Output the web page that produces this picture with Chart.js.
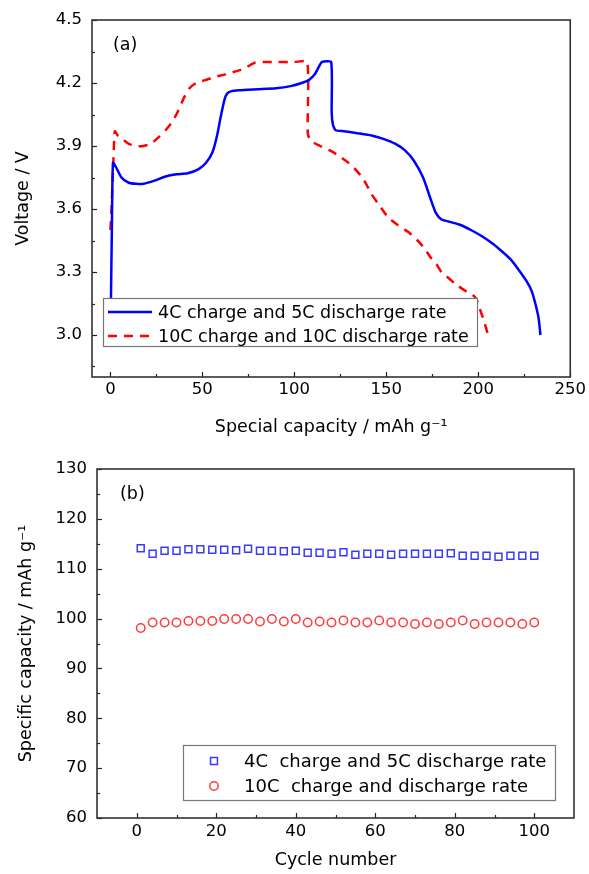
<!DOCTYPE html>
<html>
<head>
<meta charset="utf-8">
<title>Rate capability</title>
<script src="https://cdn.jsdelivr.net/npm/chart.js@4.4.1/dist/chart.umd.min.js"></script>
<style>
  html, body { margin: 0; padding: 0; background: #fff; }
  #wrap { position: relative; width: 589px; height: 874px; }
  .panel { position: absolute; left: 0; width: 589px; }
  #panelA { top: 0; height: 440px; }
  #panelB { top: 440px; height: 434px; }
</style>
</head>
<body>
<div id="wrap">
  <div class="panel" id="panelA"><canvas id="chartA" width="589" height="440"></canvas></div>
  <div class="panel" id="panelB"><canvas id="chartB" width="589" height="434"></canvas></div>
</div>
<script>
// (a) charge / discharge curves
const capBlue = [0.3, 0.8, 1.4, 3, 6, 10, 14, 18, 24, 30, 36, 42, 48, 52, 55.5, 58, 60, 62, 63.5, 65.5,
  70, 80, 90, 98, 104, 108, 111, 113.5, 115, 120, 120.3, 121, 122.5, 127, 135, 142, 148, 155, 160, 165,
  170, 174, 177, 180, 184, 190, 196, 202, 207, 212, 217.6, 222, 226, 229, 231, 232.8, 233.8];
const voltBlue = [3.17, 3.50, 3.82, 3.80, 3.75, 3.725, 3.72, 3.72, 3.735, 3.755, 3.765, 3.77, 3.79, 3.82, 3.87, 3.95, 4.04, 4.12, 4.15, 4.16,
  4.165, 4.17, 4.175, 4.185, 4.20, 4.215, 4.24, 4.28, 4.30, 4.30, 4.06, 4.00, 3.975, 3.97, 3.96, 3.95, 3.935, 3.91, 3.88, 3.83,
  3.75, 3.65, 3.58, 3.55, 3.54, 3.525, 3.50, 3.47, 3.44, 3.405, 3.36, 3.31, 3.26, 3.21, 3.15, 3.08, 3.00];
const capRed = [0, 0.6, 1.5, 2.4, 4, 7, 10, 14, 18, 22, 26, 30, 34, 37, 40, 43, 46.6, 52, 57, 62,
  66, 70, 74, 78, 81, 90, 100, 107, 107.3, 109, 114, 119, 124, 128, 132, 136, 139, 142, 146, 151,
  156, 162, 167, 171, 174, 177, 180, 184, 188, 193, 197, 199, 201, 203, 205];
const voltRed = [3.50, 3.60, 3.80, 3.97, 3.95, 3.93, 3.91, 3.90, 3.90, 3.91, 3.94, 3.975, 4.02, 4.07, 4.13, 4.175, 4.20, 4.215, 4.23, 4.24,
  4.25, 4.26, 4.275, 4.295, 4.30, 4.30, 4.30, 4.30, 3.96, 3.925, 3.90, 3.88, 3.855, 3.83, 3.80, 3.76, 3.72, 3.67, 3.62, 3.56,
  3.525, 3.49, 3.45, 3.41, 3.37, 3.34, 3.30, 3.27, 3.24, 3.21, 3.19, 3.17, 3.12, 3.07, 3.01];
const seriesA = ["4C charge and 5C discharge rate", "10C charge and 10C discharge rate"];
const xTicksA = [0, 50, 100, 150, 200, 250];
const yTicksA = [3.0, 3.3, 3.6, 3.9, 4.2, 4.5];

// (b) cycling at fixed rates
const cycles = [1, 4, 7, 10, 13, 16, 19, 22, 25, 28, 31, 34, 37, 40, 43, 46, 49, 52, 55, 58,
  61, 64, 67, 70, 73, 76, 79, 82, 85, 88, 91, 94, 97, 100];
const capCycleBlue = [114.1, 113.0, 113.6, 113.6, 113.9, 113.9, 113.8, 113.8, 113.7, 114.0, 113.6, 113.6, 113.5, 113.6, 113.2, 113.2, 113.0, 113.3, 112.8, 113.0,
  113.0, 112.8, 113.0, 113.0, 113.0, 113.0, 113.1, 112.6, 112.6, 112.6, 112.4, 112.6, 112.6, 112.6];
const capCycleRed = [98.1, 99.2, 99.2, 99.2, 99.5, 99.5, 99.5, 99.9, 99.9, 99.9, 99.4, 99.9, 99.4, 99.9, 99.2, 99.4, 99.2, 99.6, 99.2, 99.2,
  99.6, 99.2, 99.2, 98.9, 99.2, 98.9, 99.2, 99.6, 98.9, 99.2, 99.2, 99.2, 98.9, 99.2];
const seriesB = ["4C  charge and 5C discharge rate", "10C  charge and discharge rate"];
const xTicksB = [0, 20, 40, 60, 80, 100];
const yTicksB = [60, 70, 80, 90, 100, 110, 120, 130];

Chart.defaults.font.family = '"DejaVu Sans", "Liberation Sans", sans-serif';
Chart.defaults.color = '#000';

const ink = '#222';

function halfSteps(major, min, max) {
  const step = major[1] - major[0];
  const out = [];
  for (let v = major[0] - step / 2; v < max - 1e-9; v += step) {
    if (v > min + 1e-9) out.push(v);
  }
  return out;
}

function drawInwardTicks(ctx, scale, values, len) {
  const a = scale.chart.chartArea;
  values.forEach(v => {
    const p = Math.round(scale.getPixelForValue(v)) + 0.5;
    ctx.beginPath();
    if (scale.isHorizontal()) {
      ctx.moveTo(p, a.bottom);
      ctx.lineTo(p, a.bottom - len);
    } else {
      ctx.moveTo(a.left, p);
      ctx.lineTo(a.left + len, p);
    }
    ctx.stroke();
  });
}

function drawLegendBox(chart, o) {
  const { ctx, chartArea: a } = chart;
  const x = a.left + o.x;
  const y = a.bottom - o.bottom - o.h;
  ctx.fillStyle = '#fff';
  ctx.fillRect(x, y, o.w, o.h);
  ctx.strokeStyle = '#777';
  ctx.lineWidth = 1.2;
  ctx.strokeRect(x + 0.5, y + 0.5, o.w, o.h);
  ctx.font = o.size + 'px "DejaVu Sans", sans-serif';
  ctx.textBaseline = 'middle';
  ctx.textAlign = 'left';
  chart.data.datasets.forEach((ds, i) => {
    const cy = y + o.first + i * o.row;
    ctx.strokeStyle = ds.borderColor;
    if (o.kind === 'line') {
      ctx.lineWidth = ds.borderWidth;
      ctx.setLineDash(ds.borderDash || []);
      ctx.beginPath();
      ctx.moveTo(x + o.sx, cy);
      ctx.lineTo(x + o.sx + o.sw, cy);
      ctx.stroke();
      ctx.setLineDash([]);
    } else {
      ctx.lineWidth = ds.borderWidth;
      ctx.beginPath();
      if (ds.pointStyle === 'rect') {
        const s = ds.pointRadius * Math.SQRT1_2;
        ctx.rect(x + o.sx - s, cy - s, 2 * s, 2 * s);
      } else {
        ctx.arc(x + o.sx, cy, ds.pointRadius, 0, Math.PI * 2);
      }
      ctx.stroke();
    }
    ctx.fillStyle = '#000';
    ctx.fillText(ds.label, x + o.tx, cy + 1);
  });
}

const framePlugin = {
  id: 'frame',
  afterDatasetsDraw(chart, args, opts) {
    const { ctx, chartArea: a, scales } = chart;
    ctx.save();
    ctx.strokeStyle = ink;
    ctx.lineWidth = 1.2;
    drawInwardTicks(ctx, scales.x, opts.xMajor, 5);
    drawInwardTicks(ctx, scales.x, halfSteps(opts.xMajor, scales.x.min, scales.x.max), 3);
    drawInwardTicks(ctx, scales.y, opts.yMajor, 5);
    drawInwardTicks(ctx, scales.y, halfSteps(opts.yMajor, scales.y.min, scales.y.max), 3);
    ctx.lineWidth = 1.6;
    ctx.strokeStyle = '#333';
    ctx.strokeRect(a.left, a.top, a.right - a.left, a.bottom - a.top);
    ctx.fillStyle = '#000';
    ctx.font = '17.5px "DejaVu Sans", sans-serif';
    ctx.textBaseline = 'middle';
    ctx.textAlign = 'left';
    ctx.fillText(opts.tag, a.left + opts.tagX, a.top + opts.tagY);
    drawLegendBox(chart, opts.legend);
    ctx.restore();
  }
};

function axisTicks(list) {
  return s => { s.ticks = list.map(v => ({ value: v })); };
}

new Chart(document.getElementById('chartA'), {
  type: 'line',
  data: {
    datasets: [{
      label: seriesA[0],
      data: capBlue.map((c, i) => ({ x: c, y: voltBlue[i] })),
      borderColor: '#0000ff',
      borderWidth: 2.5,
      pointRadius: 0,
      tension: 0.2
    }, {
      label: seriesA[1],
      data: capRed.map((c, i) => ({ x: c, y: voltRed[i] })),
      borderColor: '#ff0000',
      borderWidth: 2.5,
      borderDash: [9, 7],
      pointRadius: 0,
      tension: 0.2
    }]
  },
  options: {
    responsive: false,
    animation: false,
    layout: { padding: { top: 20, right: 16, left: 0, bottom: 0 } },
    plugins: {
      legend: { display: false },
      tooltip: { enabled: false },
      frame: {
        tag: '(a)', tagX: 21, tagY: 25,
        xMajor: xTicksA, yMajor: yTicksA,
        legend: { kind: 'line', x: 11, w: 374, h: 48, bottom: 31, first: 14, row: 24, sx: 5, sw: 44, tx: 55, size: 17.5 }
      }
    },
    scales: {
      x: {
        type: 'linear', min: -10, max: 250,
        afterBuildTicks: axisTicks(xTicksA),
        afterFit: s => { s.height = 63; },
        grid: { display: false, drawTicks: false },
        border: { display: false },
        ticks: { padding: 3, font: { size: 16.5 }, color: '#000' },
        title: { display: true, text: 'Special capacity / mAh g⁻¹', font: { size: 17.5 }, color: '#000', padding: { top: 0, bottom: 2 } }
      },
      y: {
        type: 'linear', min: 2.8, max: 4.5,
        afterBuildTicks: axisTicks(yTicksA),
        afterFit: s => { s.width = 92; },
        grid: { display: false, drawTicks: false },
        border: { display: false },
        ticks: { padding: 10, font: { size: 16.5 }, color: '#000', callback: v => Number(v).toFixed(1) },
        title: { display: true, text: 'Voltage / V', font: { size: 17.5 }, color: '#000', padding: { top: 13, bottom: 0 } }
      }
    }
  },
  plugins: [framePlugin]
});

new Chart(document.getElementById('chartB'), {
  type: 'scatter',
  data: {
    datasets: [{
      label: seriesB[0],
      data: cycles.map((c, i) => ({ x: c, y: capCycleBlue[i] })),
      borderColor: '#3a3aff',
      backgroundColor: 'rgba(0,0,0,0)',
      borderWidth: 1.5,
      pointStyle: 'rect',
      pointRadius: 4.9
    }, {
      label: seriesB[1],
      data: cycles.map((c, i) => ({ x: c, y: capCycleRed[i] })),
      borderColor: '#ff3a3a',
      backgroundColor: 'rgba(0,0,0,0)',
      borderWidth: 1.5,
      pointStyle: 'circle',
      pointRadius: 4.2
    }]
  },
  options: {
    responsive: false,
    animation: false,
    layout: { padding: { top: 29, right: 15, left: 0, bottom: 0 } },
    plugins: {
      legend: { display: false },
      tooltip: { enabled: false },
      frame: {
        tag: '(b)', tagX: 23, tagY: 25,
        xMajor: xTicksB, yMajor: yTicksB,
        legend: { kind: 'point', x: 86, w: 372, h: 55, bottom: 18, first: 16, row: 25, sx: 31, tx: 61, size: 18 }
      }
    },
    scales: {
      x: {
        type: 'linear', min: -10, max: 110,
        afterBuildTicks: axisTicks(xTicksB),
        afterFit: s => { s.height = 56; },
        grid: { display: false, drawTicks: false },
        border: { display: false },
        ticks: { padding: 4, font: { size: 16.5 }, color: '#000' },
        title: { display: true, text: 'Cycle number', font: { size: 17.5 }, color: '#000', padding: { top: 0, bottom: 3 } }
      },
      y: {
        type: 'linear', min: 60, max: 130,
        afterBuildTicks: axisTicks(yTicksB),
        afterFit: s => { s.width = 97; },
        grid: { display: false, drawTicks: false },
        border: { display: false },
        ticks: { padding: 10, font: { size: 16.5 }, color: '#000' },
        title: { display: true, text: 'Specific capacity / mAh g⁻¹', font: { size: 17.5 }, color: '#000', padding: { top: 16, bottom: 0 } }
      }
    }
  },
  plugins: [framePlugin]
});
</script>
</body>
</html>
